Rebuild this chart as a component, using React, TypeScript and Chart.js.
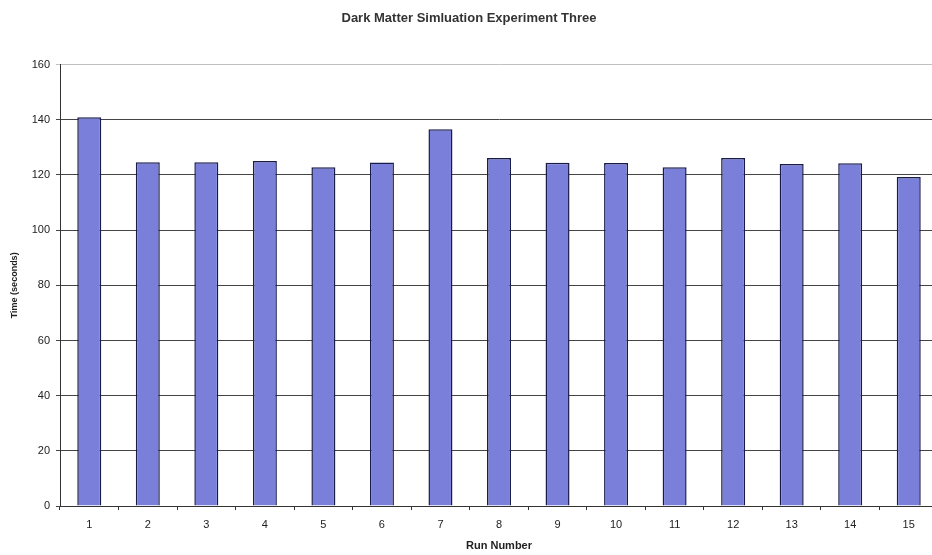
import React, { useEffect, useRef } from "react";
import { Chart, registerables } from "chart.js";

Chart.register(...registerables);

const TITLE = "Dark Matter Simluation Experiment Three";
const X_TITLE = "Run Number";
const Y_TITLE = "Time (seconds)";
const runs = ["1", "2", "3", "4", "5", "6", "7", "8", "9", "10", "11", "12", "13", "14", "15"];
const times = [140.9, 124.6, 124.6, 125.1, 122.8, 124.5, 136.6, 126.1, 124.4, 124.3, 122.8, 126.1, 124, 124.2, 119.3];
const Y_MIN = 0;
const Y_MAX = 160;
const Y_STEP = 20;

export default function App() {
  const ref = useRef<HTMLCanvasElement | null>(null);
  useEffect(() => {
    if (!ref.current) return;
    const chart = new Chart(ref.current, {
      type: "bar",
      data: {
        labels: runs,
        datasets: [
          {
            data: times,
            backgroundColor: "#7a80d9",
            borderColor: "#1a1c48",
            borderWidth: 1.5,
            categoryPercentage: 1,
            barPercentage: 0.41,
          },
        ],
      },
      options: {
        animation: false,
        responsive: true,
        maintainAspectRatio: false,
        layout: { padding: { left: 0, right: 0, top: 0, bottom: 0 } },
        plugins: {
          legend: { display: false },
          tooltip: { enabled: false },
          title: {
            display: true,
            text: TITLE,
            color: "#333",
            font: { family: "Liberation Sans, Arial", size: 13, weight: "bold" },
            padding: { top: 11, bottom: 38 },
          },
        },
        scales: {
          x: {
            offset: true,
            grid: {
              offset: true,
              drawOnChartArea: false,
              drawTicks: true,
              tickLength: 4,
              color: "#333",
            },
            border: { color: "#333", width: 1 },
            ticks: {
              color: "#222",
              padding: 8,
              font: { family: "Liberation Sans, Arial", size: 11 },
              maxRotation: 0,
            },
            title: {
              display: true,
              text: X_TITLE,
              color: "#222",
              font: { family: "Liberation Sans, Arial", size: 11, weight: "bold" },
              padding: { top: 0, bottom: 2 },
            },
            afterFit: (s: any) => {
              s.height = 49;
            },
          },
          y: {
            min: Y_MIN,
            max: Y_MAX,
            ticks: {
              stepSize: Y_STEP,
              color: "#222",
              padding: 6,
              font: { family: "Liberation Sans, Arial", size: 11 },
            },
            grid: {
              color: (ctx: any) => (ctx.tick && ctx.tick.value === Y_MAX ? "#c0c0c0" : "#444"),
              lineWidth: 1,
              tickLength: 4,
            },
            border: { color: "#333", width: 1 },
            title: {
              display: true,
              text: Y_TITLE,
              color: "#222",
              font: { family: "Liberation Sans, Arial", size: 9, weight: "bold" },
              padding: { top: 9, bottom: 0 },
            },
            afterFit: (s: any) => {
              s.width = 60;
            },
          },
        },
      },
    });
    return () => chart.destroy();
  }, []);
  return (
    <div style={{ position: "fixed", left: 0, top: 0, width: 932, height: 555, overflow: "hidden", background: "#fff" }}>
      <div style={{ position: "relative", width: 938, height: 555 }}>
        <canvas ref={ref} />
      </div>
    </div>
  );
}
